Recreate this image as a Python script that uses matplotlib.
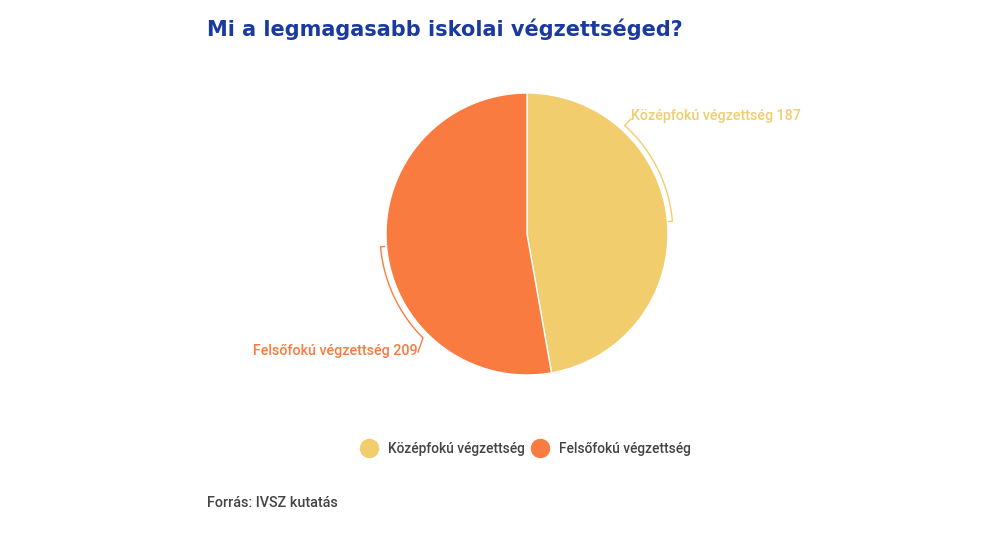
import numpy as np
import matplotlib.pyplot as plt
from matplotlib.lines import Line2D

# data
categories = ["Középfokú végzettség", "Felsőfokú végzettség"]
values = [187, 209]
colors = ["#F1CD6D", "#F97B40"]

title = "Mi a legmagasabb iskolai végzettséged?"
source = "Forrás: IVSZ kutatás"

W, H = 1000, 538
fig = plt.figure(figsize=(W / 100, H / 100), dpi=100)
ax = fig.add_axes([0, 0, 1, 1])

cx, cy, R = 527, H - 234, 141
wedges, _ = ax.pie(values, colors=colors, startangle=90, counterclock=False,
                   center=(cx, cy), radius=R, frame=True,
                   wedgeprops=dict(linewidth=1, edgecolor="white"))
ax.set_xlim(0, W)
ax.set_ylim(0, H)
ax.set_aspect("equal")
ax.axis("off")


def pt(ang, r):
    a = np.radians(ang)
    return cx + r * np.cos(a), cy + r * np.sin(a)


# connectors: arc from wedge midpoint to label
conn = [(48, 146, (631, H - 119), "left", (631, H - 116)),
        (225, 147, (418, H - 352), "right", (418, H - 351))]
for w, val, col, (end_ang, rr, lp, ha, tp) in zip(wedges, values, colors, conn):
    mid = (w.theta1 + w.theta2) / 2
    if mid < 0:
        mid += 360
    a = np.linspace(mid, end_ang, 60)
    xs, ys = pt(a, rr)
    x0, y0 = pt(mid, rr - 4)
    xs = np.concatenate([[x0], xs, [lp[0]]])
    ys = np.concatenate([[y0], ys, [lp[1]]])
    ax.plot(xs, ys, color=col, lw=1)
    cat = categories[values.index(val)]
    ax.text(tp[0], tp[1], f"{cat} {val}", color=col, fontsize=10.3,
            fontweight="medium", family="Roboto", ha=ha, va="center")

fig.text(207 / W, 1 - 29 / H, title, color="#1A3AA0", fontsize=15,
         fontweight="bold", family="DejaVu Sans", ha="left", va="center")
fig.text(207 / W, 1 - 503 / H, source, color="#444444", fontsize=10.4,
         fontweight="medium", family="Roboto", ha="left", va="center")

handles = [Line2D([], [], marker="o", ls="", markersize=13, color=c) for c in colors]
leg = fig.legend(handles, categories, loc="center", ncol=2,
                 bbox_to_anchor=(526 / W, 1 - 449 / H), frameon=False,
                 prop={"family": "Roboto", "size": 9.9, "weight": "medium"},
                 handletextpad=0.8, columnspacing=0.5, handlelength=1.2)
for t in leg.get_texts():
    t.set_color("#444444")

fig.savefig("out.png", dpi=100, facecolor="white")
